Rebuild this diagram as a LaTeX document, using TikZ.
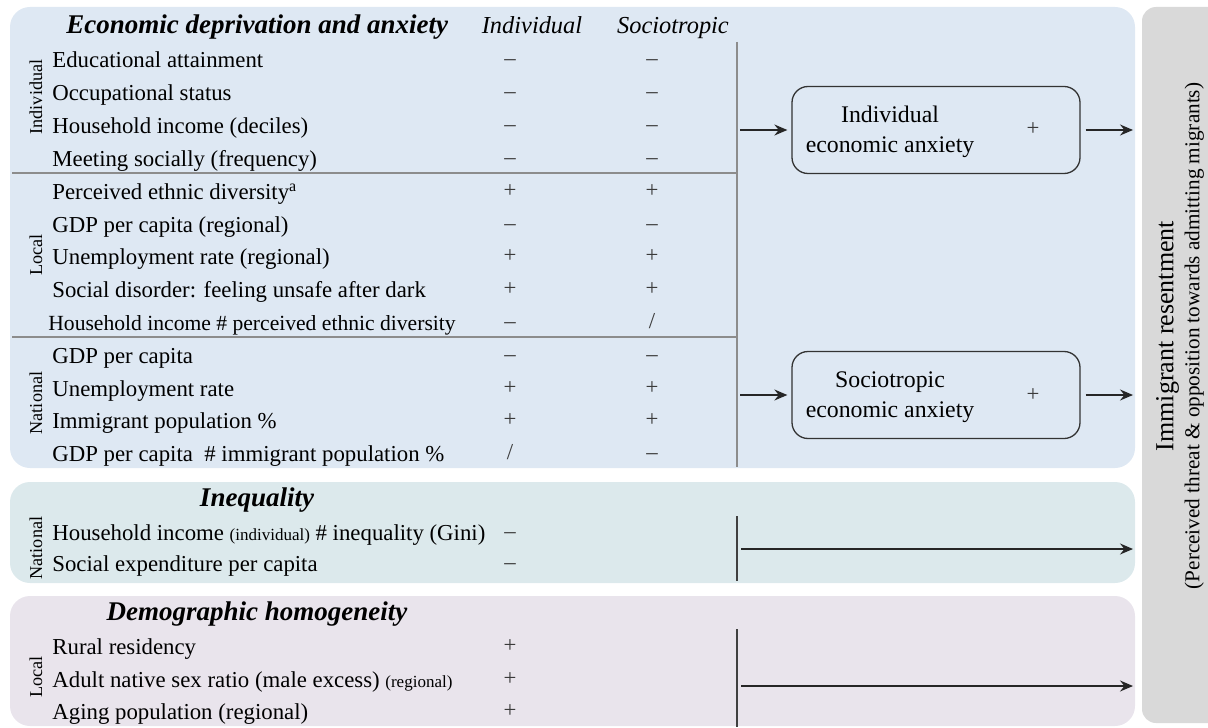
\documentclass[tikz,border=0pt]{standalone}
\usepackage{fontspec}
\setmainfont{Liberation Serif}
\usetikzlibrary{positioning, arrows.meta}

\definecolor{econblue}{HTML}{DEE8F3}
\definecolor{ineqteal}{HTML}{DCE9EC}
\definecolor{demolilac}{HTML}{E9E4EC}
\definecolor{outgrey}{HTML}{D9D9D9}
\definecolor{rulegrey}{HTML}{8C8C8C}
\definecolor{signgrey}{HTML}{3A3A3A}

\def\mns{–}
\def\pls{+}
\def\nix{/}

\begin{document}
\begin{tikzpicture}[x=0.5pt, y=-0.5pt,
		rowtext/.style={anchor=base west, inner sep=0pt, font=\fontsize{11.4}{13}\selectfont},
		sign/.style={anchor=base, inner sep=0pt, text=signgrey, font=\fontsize{11.4}{13}\selectfont},
		paneltitle/.style={anchor=base, inner sep=0pt, font=\fontsize{13.5}{15}\selectfont\bfseries\itshape},
		colhead/.style={anchor=base, inner sep=0pt, font=\fontsize{12.2}{14}\selectfont\itshape},
		levellabel/.style={rotate=90, inner sep=0pt, font=\fontsize{9.1}{10}\selectfont},
		anxietybox/.style={draw=black!80, line width=0.65pt, rounded corners=8pt, minimum width=144pt, minimum height=43.5pt},
		boxtext/.style={align=center, inner sep=0pt, font=\fontsize{11.9}{15}\selectfont},
		outcometext/.style={rotate=90, align=center, inner sep=0pt, font=\fontsize{10.6}{13}\selectfont},
		rule/.style={rulegrey, line width=0.7pt},
		bar/.style={black!75, line width=0.7pt},
		flow/.style={-{Stealth[length=6.5pt, width=5.5pt, inset=2.2pt]}, black!85, line width=0.8pt}]
	\useasboundingbox (0,0) rectangle (1208,727);

	% panels
	\begin{scope}[rounded corners=10pt]
		\fill[econblue] (10,7) rectangle (1135,468);
		\fill[ineqteal] (10,482) rectangle (1135,583);
		\fill[demolilac] (10,596) rectangle (1135,726);
		\fill[outgrey, rounded corners=7pt] (1142,7) rectangle (1230,723);
	\end{scope}
	\coordinate (panel-edge) at (1142,0);

	% economic deprivation and anxiety
	\node[paneltitle, anchor=base west] (econ-title) at (66,34) {Economic deprivation and anxiety};
	\node[colhead] (head-ind) at (532,34) {Individual};
	\node[colhead] (head-soc) at (673,34) {Sociotropic};

	\foreach \lbl/\ind/\soc [count=\i] in {
			Educational attainment/\mns/\mns,
			Occupational status/\mns/\mns,
			Household income (deciles)/\mns/\mns,
			Meeting socially (frequency)/\mns/\mns,
			Perceived ethnic diversity\textsuperscript{a}/\pls/\pls,
			GDP per capita (regional)/\mns/\mns,
			Unemployment rate (regional)/\pls/\pls,
			Social disorder: feeling unsafe after dark/\pls/\pls,
			{\hspace*{-2pt}\fontsize{10.8}{12}\selectfont Household income \# perceived ethnic diversity}/\mns/\nix,
			GDP per capita/\mns/\mns,
			Unemployment rate/\pls/\pls,
			Immigrant population \%/\pls/\pls,
			GDP per capita~ \# immigrant population \%/\nix/\mns}
	{
		\node[rowtext] (econ-\i) at (52, {68+32.8*(\i-1)}) {\lbl};
		\node[sign] (ind-\i) at (510, {66+32.8*(\i-1)}) {\ind};
		\node[sign] (soc-\i) at (652, {66+32.8*(\i-1)}) {\soc};
	}

	\node[levellabel] (lvl-ind) at (36,97) {Individual};
	\node[levellabel] (lvl-loc) at (36,255) {Local};
	\node[levellabel] (lvl-nat) at (36,403) {National};

	\draw[rule] (12,173) -- (737,173);
	\draw[rule] (12,337) -- (737,337);
	\draw[rule] (737,42) -- (737,467);
	\coordinate (econ-bar) at (737,0);

	\node[anxietybox] (indbox) at (936,130) {};
	\node[boxtext] (indbox-text) at (890,132) {Individual\\economic anxiety};
	\node[sign] (indbox-sign) at (1033,136) {+};

	\node[anxietybox] (socbox) at (936,395) {};
	\node[boxtext] (socbox-text) at (890,397) {Sociotropic\\economic anxiety};
	\node[sign] (socbox-sign) at (1033,401) {+};

	\draw[flow, shorten <=1.5pt, shorten >=2pt] (econ-bar |- indbox) -- (indbox.west);
	\draw[flow, shorten <=2.5pt, shorten >=4.5pt] (indbox.east) -- (indbox.east -| panel-edge);
	\draw[flow, shorten <=1.5pt, shorten >=2pt] (econ-bar |- socbox) -- (socbox.west);
	\draw[flow, shorten <=2.5pt, shorten >=4.5pt] (socbox.east) -- (socbox.east -| panel-edge);

	% inequality
	\node[paneltitle] (ineq-title) at (257,506) {Inequality};
	\node[rowtext] (ineq-1) at (52,540) {Household income {\fontsize{8.5}{10}\selectfont(individual)} \# inequality (Gini)};
	\node[rowtext] (ineq-2) at (52,571) {Social expenditure per capita};
	\node[sign] (ineq-sign-1) at (510,538) {\mns};
	\node[sign] (ineq-sign-2) at (510,569) {\mns};
	\node[levellabel] (lvl-ineq) at (36,548) {National};

	\draw[bar] (737,516) -- (737,581);
	\coordinate (ineq-bar) at (737,549);
	\draw[flow, shorten <=2pt, shorten >=4.5pt] (ineq-bar) -- (ineq-bar -| panel-edge);

	% demographic homogeneity
	\node[paneltitle] (demo-title) at (257,620) {Demographic homogeneity};
	\node[rowtext] (demo-1) at (52,654) {Rural residency};
	\node[rowtext] (demo-2) at (52,687) {Adult native sex ratio (male excess) {\fontsize{8.5}{10}\selectfont(regional)}};
	\node[rowtext] (demo-3) at (52,719) {Aging population (regional)};
	\node[sign] (demo-sign-1) at (510,652) {\pls};
	\node[sign] (demo-sign-2) at (510,685) {\pls};
	\node[sign] (demo-sign-3) at (510,717) {\pls};
	\node[levellabel] (lvl-demo) at (36,677) {Local};

	\draw[bar] (737,629) -- (737,727);
	\coordinate (demo-bar) at (737,686);
	\draw[flow, shorten <=2pt, shorten >=4.5pt] (demo-bar) -- (demo-bar -| panel-edge);

	% outcome
	\node[outcometext] (outcome) at (1180,336) {{\fontsize{13}{13}\selectfont Immigrant resentment}\\(Perceived threat \& opposition towards admitting migrants)};
\end{tikzpicture}
\end{document}
